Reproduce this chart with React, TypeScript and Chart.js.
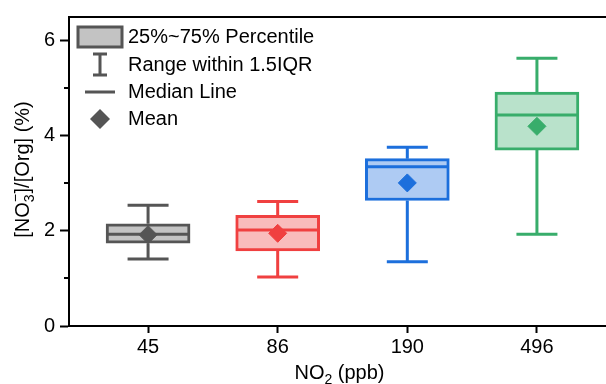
import React, { useEffect, useRef } from "react";
import { Chart, registerables } from "chart.js";

Chart.register(...registerables);

const categories = ["45", "86", "190", "496"];
const whiskerLow = [1.41, 1.03, 1.35, 1.93];
const q1 = [1.74, 1.58, 2.64, 3.7];
const median = [1.93, 2.02, 3.35, 4.44];
const q3 = [2.15, 2.33, 3.52, 4.92];
const whiskerHigh = [2.54, 2.62, 3.76, 5.63];
const mean = [1.92, 1.95, 3.01, 4.2];
const yMajorTicks = [0, 2, 4, 6];
const yMinorTicks = [1, 3, 5];
const legendLabels = ["25%~75% Percentile", "Range within 1.5IQR", "Median Line", "Mean"];

const edgeColors = ["#555555", "#f04040", "#1c6fdc", "#38ad6b"];
const fillColors = ["#c3c3c3", "#f9bcbc", "#aecbf3", "#b9e2cb"];
const FONT = "'Liberation Sans', Arial, sans-serif";
const BOX_W = 84;
const CAP_HALF = 20.5;

const extrasPlugin = {
  id: "boxExtras",
  afterDatasetDraw(chart: any, args: any) {
    if (args.index !== 0) return;
    const ctx = chart.ctx;
    const xs = chart.scales.x;
    const ys = chart.scales.y;
    ctx.save();
    ctx.lineWidth = 3;
    ctx.lineCap = "butt";
    categories.forEach((_, i) => {
      const cx = xs.getPixelForValue(i);
      const yH = ys.getPixelForValue(whiskerHigh[i]);
      const yL = ys.getPixelForValue(whiskerLow[i]);
      const y3 = ys.getPixelForValue(q3[i]);
      const y1 = ys.getPixelForValue(q1[i]);
      const yM = ys.getPixelForValue(median[i]);
      ctx.strokeStyle = edgeColors[i];
      ctx.beginPath();
      ctx.moveTo(cx, y3);
      ctx.lineTo(cx, yH);
      ctx.moveTo(cx, y1);
      ctx.lineTo(cx, yL);
      ctx.moveTo(cx - CAP_HALF, yH);
      ctx.lineTo(cx + CAP_HALF, yH);
      ctx.moveTo(cx - CAP_HALF, yL);
      ctx.lineTo(cx + CAP_HALF, yL);
      ctx.moveTo(cx - BOX_W / 2 + 1, yM);
      ctx.lineTo(cx + BOX_W / 2 - 1, yM);
      ctx.stroke();
    });
    ctx.restore();
  },
  afterDraw(chart: any) {
    const ctx = chart.ctx;
    const area = chart.chartArea;
    const ys = chart.scales.y;
    ctx.save();
    // top frame line
    ctx.strokeStyle = "#000";
    ctx.lineWidth = 2;
    ctx.beginPath();
    ctx.moveTo(area.left - 1, area.top);
    ctx.lineTo(area.right, area.top);
    ctx.stroke();
    // minor ticks
    ctx.beginPath();
    yMinorTicks.forEach((v) => {
      const y = Math.round(ys.getPixelForValue(v));
      ctx.moveTo(area.left - 5, y);
      ctx.lineTo(area.left, y);
    });
    ctx.stroke();

    // legend
    const lx = area.left;
    const ty = area.top;
    const gray = "#555555";
    ctx.lineWidth = 3;
    ctx.strokeStyle = gray;
    ctx.fillStyle = "#c3c3c3";
    ctx.fillRect(lx + 9, ty + 10, 44, 20);
    ctx.strokeRect(lx + 9, ty + 10, 44, 20);
    // I-beam
    const bx = lx + 31;
    ctx.beginPath();
    ctx.moveTo(bx, ty + 37);
    ctx.lineTo(bx, ty + 58);
    ctx.moveTo(bx - 7, ty + 37);
    ctx.lineTo(bx + 7, ty + 37);
    ctx.moveTo(bx - 7, ty + 58);
    ctx.lineTo(bx + 7, ty + 58);
    // median line
    ctx.moveTo(bx - 15, ty + 75);
    ctx.lineTo(bx + 15, ty + 75);
    ctx.stroke();
    // diamond
    ctx.fillStyle = gray;
    ctx.beginPath();
    ctx.moveTo(bx, ty + 92);
    ctx.lineTo(bx + 10, ty + 102);
    ctx.lineTo(bx, ty + 112);
    ctx.lineTo(bx - 10, ty + 102);
    ctx.closePath();
    ctx.fill();
    ctx.fillStyle = "#000";
    ctx.font = `20px ${FONT}`;
    ctx.textBaseline = "middle";
    ctx.textAlign = "left";
    const rows = [20, 48, 75, 102];
    legendLabels.forEach((t, i) => ctx.fillText(t, lx + 59, ty + rows[i]));

    // x title: NO2 (ppb)
    ctx.textBaseline = "alphabetic";
    const big = `20px ${FONT}`;
    const small = `14px ${FONT}`;
    const xParts = [
      { t: "NO", f: big, dy: 0 },
      { t: "2", f: small, dy: 5 },
      { t: " (ppb)", f: big, dy: 0 },
    ];
    let tw = 0;
    xParts.forEach((p) => {
      ctx.font = p.f;
      tw += ctx.measureText(p.t).width;
    });
    let x0 = (area.left + area.right) / 2 - 3 - tw / 2;
    const baseY = 379;
    xParts.forEach((p) => {
      ctx.font = p.f;
      ctx.fillText(p.t, x0, baseY + p.dy);
      x0 += ctx.measureText(p.t).width;
    });

    // y title: [NO3-]/[Org] (%)
    ctx.save();
    ctx.translate(22, (area.top + area.bottom) / 2 - 2);
    ctx.rotate(-Math.PI / 2);
    ctx.font = big;
    const a = "[NO";
    const b = "]/[Org] (%)";
    const wa = ctx.measureText(a).width;
    const wb = ctx.measureText(b).width;
    ctx.font = small;
    const ws = ctx.measureText("3").width;
    const total = wa + ws + 1 + wb;
    let px = -total / 2;
    ctx.font = big;
    ctx.fillText(a, px, 7);
    px += wa;
    ctx.font = small;
    ctx.fillText("3", px, 12);
    ctx.fillText("\u2212", px, -2);
    px += ws + 1;
    ctx.font = big;
    ctx.fillText(b, px, 7);
    ctx.restore();

    ctx.restore();
  },
};

export default function App() {
  const ref = useRef<HTMLCanvasElement | null>(null);
  useEffect(() => {
    if (!ref.current) return;
    const tickFont = { family: FONT, size: 20 };
    const chart = new Chart(ref.current, {
      type: "bar",
      data: {
        datasets: [
          {
            type: "bar",
            data: categories.map((_, i) => ({ x: i, y: [q1[i], q3[i]] })) as any,
            backgroundColor: fillColors,
            borderColor: edgeColors,
            borderWidth: 3,
            borderSkipped: false,
            barThickness: BOX_W,
            order: 2,
          } as any,
          {
            type: "scatter",
            data: categories.map((_, i) => ({ x: i, y: mean[i] })),
            pointStyle: "rectRot",
            pointRadius: 9,
            pointBackgroundColor: edgeColors,
            pointBorderColor: edgeColors,
            pointBorderWidth: 1,
            order: 1,
          } as any,
        ],
      },
      options: {
        responsive: false,
        animation: false,
        layout: { padding: { top: 13, right: 24, left: 0, bottom: 0 } },
        plugins: { legend: { display: false }, tooltip: { enabled: false } },
        scales: {
          x: {
            type: "linear",
            offset: false,
            min: -0.61,
            max: 3.61,
            afterBuildTicks: (s: any) => {
              s.ticks = categories.map((_, i) => ({ value: i }));
            },
            afterFit: (s: any) => {
              s.height = 58;
            },
            ticks: {
              callback: (v: any) => categories[v] ?? "",
              font: tickFont,
              color: "#000",
              padding: 2,
              maxRotation: 0,
              autoSkip: false,
            },
            grid: { offset: false, drawOnChartArea: false, tickLength: 7, tickWidth: 2, tickColor: "#000" },
            border: { color: "#000", width: 2 },
          },
          y: {
            type: "linear",
            min: 0,
            max: 6.5,
            afterBuildTicks: (s: any) => {
              s.ticks = yMajorTicks.map((v) => ({ value: v }));
            },
            afterFit: (s: any) => {
              s.width = 69;
            },
            ticks: { font: tickFont, color: "#000", padding: 5 },
            grid: { drawOnChartArea: false, tickLength: 9, tickWidth: 2, tickColor: "#000" },
            border: { color: "#000", width: 2 },
          },
        },
      } as any,
      plugins: [extrasPlugin],
    });
    return () => chart.destroy();
  }, []);
  return (
    <div style={{ position: "fixed", left: 0, top: 0, width: 640, height: 384, background: "#fff" }}>
      <canvas ref={ref} width={640} height={384} />
    </div>
  );
}
